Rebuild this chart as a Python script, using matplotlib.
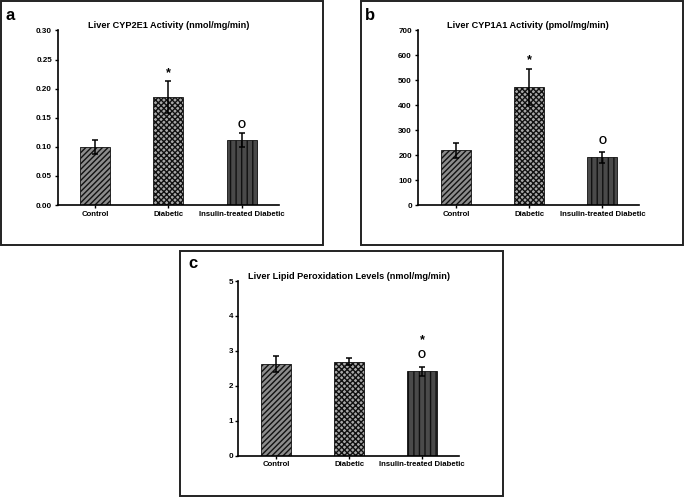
import numpy as np
import matplotlib
matplotlib.use('Agg')
import matplotlib.pyplot as plt
from matplotlib.patches import Rectangle

plt.rcParams['font.family'] = ['Liberation Sans', 'DejaVu Sans']
plt.rcParams['font.weight'] = 'bold'
plt.rcParams['hatch.linewidth'] = 1.0

groups = ['Control', 'Diabetic', 'Insulin-treated Diabetic']

# panel a: CYP2E1
cyp2e1_mean = [0.099, 0.186, 0.111]
cyp2e1_err = [0.012, 0.027, 0.012]
# panel b: CYP1A1
cyp1a1_mean = [220, 474, 192]
cyp1a1_err = [30, 72, 22]
# panel c: lipid peroxidation
lipid_mean = [2.62, 2.68, 2.41]
lipid_err = [0.22, 0.10, 0.12]

titles = ['Liver CYP2E1 Activity (nmol/mg/min)',
          'Liver CYP1A1 Activity (pmol/mg/min)',
          'Liver Lipid Peroxidation Levels (nmol/mg/min)']
ymax = [0.30, 700, 5]
yticks = [np.arange(0, 0.301, 0.05), np.arange(0, 701, 100), np.arange(0, 6, 1)]
ytick_fmt = ['{:.2f}', '{:.0f}', '{:.0f}']
# significance marks: (group index, symbol, y value)
marks = [[(1, '*', 0.226), (2, 'o', 0.137)],
         [(1, '*', 582), (2, 'o', 256)],
         [(2, '*', 3.31), (2, 'o', 2.87)]]

face = ['#8c8c8c', '#a8a8a8', '#4a4a4a']
hatches = ['//////', 'xxxxxx', '|||']

W, H = 684, 498
fig = plt.figure(figsize=(W / 100, H / 100), dpi=100)

def px_axes(x0, y0, x1, y1):
    return fig.add_axes([x0 / W, 1 - y1 / H, (x1 - x0) / W, (y1 - y0) / H])

def px_frame(x0, y0, x1, y1):
    fig.patches.append(Rectangle((x0 / W, 1 - y1 / H), (x1 - x0) / W, (y1 - y0) / H,
                                 transform=fig.transFigure, fill=False,
                                 edgecolor='#222222', linewidth=1.4))

# frames around each panel
px_frame(1, 1, 323, 245)
px_frame(361, 1, 683, 245)
px_frame(180, 251, 503, 496)

axes = [px_axes(57.5, 30.5, 279, 205),
        px_axes(417.5, 30.5, 639, 205),
        px_axes(238.5, 281, 459, 455.5)]
xlims = [(-0.51, 2.51), (-0.53, 2.5), (-0.52, 2.51)]
means = [cyp2e1_mean, cyp1a1_mean, lipid_mean]
errs = [cyp2e1_err, cyp1a1_err, lipid_err]
labels = ['a', 'b', 'c']
label_pos = [(5, 15), (365, 15), (188, 263)]

x = np.arange(len(groups))
for i, ax in enumerate(axes):
    for j in range(len(groups)):
        ax.bar(x[j], means[i][j], width=0.41, color=face[j], hatch=hatches[j],
               edgecolor='#111111', linewidth=0.6, zorder=2)
    ax.errorbar(x, means[i], yerr=errs[i], fmt='none', ecolor='black',
                elinewidth=1.1, capsize=2.0, capthick=1.1, zorder=3)
    for g, sym, yv in marks[i]:
        if sym == 'o':
            ax.text(x[g], yv, 'O', ha='center', va='center', fontsize=7.5, fontweight='bold')
        else:
            ax.text(x[g], yv, '*', ha='center', va='center', fontsize=9, fontweight='bold')
    ax.set_xlim(*xlims[i])
    ax.set_ylim(0, ymax[i])
    ax.set_yticks(yticks[i])
    ax.set_yticklabels([ytick_fmt[i].format(v) for v in yticks[i]], fontsize=5.8, fontweight='bold')
    ax.set_xticks(x)
    ax.set_xticklabels(groups, fontsize=5.6, fontweight='bold')
    ax.tick_params(axis='both', length=2.5, width=1.0, pad=1.5)
    ax.spines['top'].set_visible(False)
    ax.spines['right'].set_visible(False)
    ax.spines['left'].set_linewidth(1.2)
    ax.spines['bottom'].set_linewidth(1.2)
    ax.set_title(titles[i], fontsize=6.6, fontweight='bold', pad=-3)
    lx, ly = label_pos[i]
    fig.text(lx / W, 1 - ly / H, labels[i], fontsize=12, fontweight='bold', va='center')

fig.savefig('out.png', dpi=100)
